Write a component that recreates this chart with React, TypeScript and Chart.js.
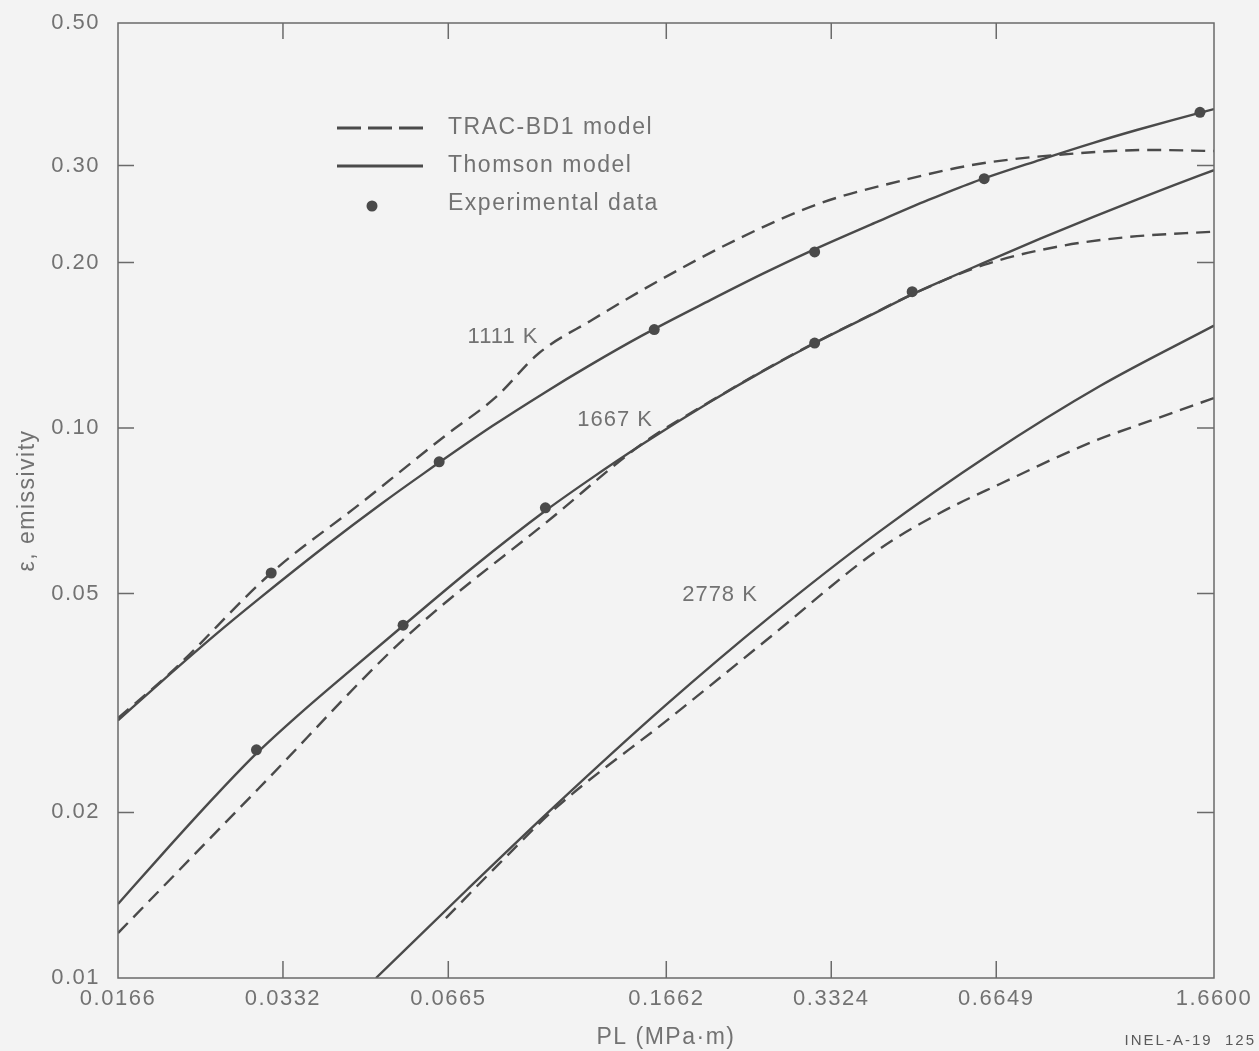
import React, { useEffect, useRef } from "react";
import { Chart, registerables } from "chart.js";

Chart.register(...registerables);

const FONT = "'Liberation Sans', Arial, Helvetica, sans-serif";
const BG = "#f3f3f3";
const INK = "#4a4a4a";
const TEXT = "#727272";
const FRAME = "#6a6a6a";

// ---- axes ----
const xTickValues = [0.0166, 0.0332, 0.0665, 0.1662, 0.3324, 0.6649, 1.66];
const xTickLabels = ["0.0166", "0.0332", "0.0665", "0.1662", "0.3324", "0.6649", "1.6600"];
const yTickValues = [0.01, 0.02, 0.05, 0.1, 0.2, 0.3, 0.545];
const yTickLabels = ["0.01", "0.02", "0.05", "0.10", "0.20", "0.30", "0.50"];

// ---- model curves (PL in MPa·m, emissivity) ----
// 1111 K
const plThomson1111 = [0.0166, 0.02, 0.025, 0.03, 0.04, 0.05, 0.06, 0.08, 0.1, 0.12, 0.15, 0.2, 0.25, 0.3, 0.4, 0.5, 0.6, 0.8, 1.0, 1.2, 1.4, 1.66];
const thomson1111 = [0.0294, 0.0347, 0.0421, 0.0489, 0.0614, 0.0726, 0.0827, 0.1008, 0.1162, 0.1297, 0.1472, 0.1708, 0.191, 0.2082, 0.2362, 0.2598, 0.2792, 0.3074, 0.33, 0.3482, 0.3634, 0.3801];
const plTrac1111 = [0.0166, 0.0207, 0.0316, 0.0459, 0.0659, 0.0813, 0.0974, 0.1216, 0.1619, 0.2266, 0.3145, 0.4437, 0.6159, 0.9495, 1.268, 1.66];
const trac1111 = [0.0297, 0.0359, 0.0545, 0.0728, 0.0971, 0.1139, 0.1369, 0.1572, 0.1858, 0.2216, 0.2555, 0.2812, 0.302, 0.3162, 0.3203, 0.3189];
// 1667 K
const plThomson1667 = [0.0166, 0.02, 0.025, 0.0297, 0.0355, 0.0437, 0.055, 0.0741, 0.1, 0.12, 0.15, 0.2, 0.25, 0.31, 0.4, 0.467, 0.5, 0.6, 0.8, 1.0, 1.2, 1.4, 1.66];
const thomson1667 = [0.01363, 0.0168, 0.02143, 0.0256, 0.03013, 0.036, 0.0437, 0.056, 0.0707, 0.0804, 0.0933, 0.1116, 0.127, 0.1426, 0.1619, 0.175, 0.1805, 0.1954, 0.221, 0.2421, 0.2602, 0.2761, 0.2944];
const plTrac1667 = [0.0166, 0.03, 0.0557, 0.1032, 0.15, 0.2, 0.25, 0.31, 0.4, 0.467, 0.631, 0.8545, 1.157, 1.66];
const trac1667 = [0.01207, 0.02213, 0.0417, 0.0689, 0.0935, 0.1118, 0.1272, 0.1428, 0.1622, 0.175, 0.1979, 0.2134, 0.2225, 0.2275];
// 2778 K
const plThomson2778 = [0.04908, 0.07193, 0.1045, 0.1652, 0.2559, 0.4045, 0.6475, 1.028, 1.66];
const thomson2778 = [0.01, 0.01447, 0.02062, 0.03124, 0.04521, 0.06454, 0.08961, 0.1192, 0.1535];
const plTrac2778 = [0.06583, 0.08262, 0.1045, 0.1688, 0.2559, 0.4045, 0.5248, 0.6753, 0.994, 1.268, 1.66];
const trac2778 = [0.01285, 0.01619, 0.02038, 0.0297, 0.04151, 0.06, 0.07007, 0.07911, 0.0943, 0.103, 0.1134];

// ---- experimental data ----
const exp1111PL = [0.0316, 0.064, 0.158, 0.31, 0.632, 1.565];
const exp1111E = [0.0545, 0.0868, 0.151, 0.209, 0.284, 0.375];
const exp1667PL = [0.0297, 0.055, 0.1, 0.31, 0.467];
const exp1667E = [0.026, 0.0438, 0.0716, 0.1427, 0.177];

// ---- annotations ----
const curveLabels = [
  { text: "1111 K", pl: 0.0837, e: 0.1464 },
  { text: "1667 K", pl: 0.134, e: 0.1034 },
  { text: "2778 K", pl: 0.2083, e: 0.0497 },
];
const legendItems = [
  { kind: "dashed", text: "TRAC-BD1 model" },
  { kind: "solid", text: "Thomson model" },
  { kind: "dot", text: "Experimental data" },
];
const figureId = "INEL-A-19  125";

const pts = (xs: number[], ys: number[]) => xs.map((x, i) => ({ x, y: ys[i] }));

const lineSet = (label: string, xs: number[], ys: number[], dashed: boolean) => ({
  label,
  data: pts(xs, ys),
  showLine: true,
  borderColor: INK,
  backgroundColor: INK,
  borderWidth: 2.4,
  borderDash: dashed ? [14, 8] : [],
  pointRadius: 0,
  cubicInterpolationMode: "monotone",
  fill: false,
});

const dotSet = (label: string, xs: number[], ys: number[]) => ({
  label,
  data: pts(xs, ys),
  showLine: false,
  pointRadius: 5.5,
  pointBorderWidth: 0,
  pointBackgroundColor: INK,
  backgroundColor: INK,
  borderColor: INK,
});

const decorPlugin = {
  id: "decor",
  beforeDraw(chart: any) {
    const ctx = chart.ctx;
    ctx.save();
    ctx.fillStyle = BG;
    ctx.fillRect(0, 0, chart.width, chart.height);
    ctx.restore();
    ctx.letterSpacing = "1.5px";
  },
  afterDatasetsDraw(chart: any) {
    const { ctx, chartArea } = chart;
    const { left, right, top, bottom } = chartArea;
    const xs = chart.scales.x;
    const ys = chart.scales.y;
    ctx.save();
    ctx.strokeStyle = FRAME;
    ctx.lineWidth = 1.5;
    ctx.setLineDash([]);
    ctx.strokeRect(left, top, right - left, bottom - top);
    ctx.beginPath();
    xTickValues.slice(1, -1).forEach((v) => {
      const px = xs.getPixelForValue(v);
      ctx.moveTo(px, bottom);
      ctx.lineTo(px, bottom - 17);
      ctx.moveTo(px, top);
      ctx.lineTo(px, top + 16);
    });
    yTickValues.slice(1, -1).forEach((v) => {
      const py = ys.getPixelForValue(v);
      ctx.moveTo(left, py);
      ctx.lineTo(left + 16, py);
      ctx.moveTo(right, py);
      ctx.lineTo(right - 17, py);
    });
    ctx.stroke();
    ctx.restore();
  },
  afterDraw(chart: any) {
    const ctx = chart.ctx;
    const xs = chart.scales.x;
    const ys = chart.scales.y;
    ctx.save();
    // legend
    const lx0 = 337, lx1 = 423, tx = 448;
    const rows = [128, 166, 204];
    legendItems.forEach((it, i) => {
      const y = rows[i];
      ctx.strokeStyle = INK;
      ctx.fillStyle = INK;
      ctx.lineWidth = 3;
      if (it.kind === "dashed" || it.kind === "solid") {
        ctx.setLineDash(it.kind === "dashed" ? [24, 7] : []);
        ctx.beginPath();
        ctx.moveTo(lx0, y);
        ctx.lineTo(lx1, y);
        ctx.stroke();
        ctx.setLineDash([]);
      } else {
        ctx.beginPath();
        ctx.arc(372, y + 2, 5.5, 0, Math.PI * 2);
        ctx.fill();
      }
      ctx.fillStyle = TEXT;
      ctx.font = `23px ${FONT}`;
      ctx.letterSpacing = "1.5px";
      ctx.textAlign = "left";
      ctx.textBaseline = "middle";
      ctx.fillText(it.text, tx, y);
    });
    // curve labels
    ctx.font = `22px ${FONT}`;
    ctx.letterSpacing = "1px";
    ctx.textAlign = "center";
    ctx.textBaseline = "middle";
    ctx.fillStyle = TEXT;
    curveLabels.forEach((c) => {
      ctx.fillText(c.text, xs.getPixelForValue(c.pl), ys.getPixelForValue(c.e));
    });
    // figure id
    ctx.font = `15px ${FONT}`;
    ctx.letterSpacing = "2px";
    ctx.textAlign = "right";
    ctx.fillStyle = "#5a5a5a";
    ctx.fillText(figureId, 1256, 1041);
    ctx.restore();
  },
};

export default function App() {
  const ref = useRef<HTMLCanvasElement>(null);
  useEffect(() => {
    const tickFont = { family: FONT, size: 22 };
    const chart = new Chart(ref.current as HTMLCanvasElement, {
      type: "scatter",
      data: {
        datasets: [
          lineSet("TRAC-BD1 1111 K", plTrac1111, trac1111, true),
          lineSet("Thomson 1111 K", plThomson1111, thomson1111, false),
          lineSet("TRAC-BD1 1667 K", plTrac1667, trac1667, true),
          lineSet("Thomson 1667 K", plThomson1667, thomson1667, false),
          lineSet("TRAC-BD1 2778 K", plTrac2778, trac2778, true),
          lineSet("Thomson 2778 K", plThomson2778, thomson2778, false),
          dotSet("Experimental 1111 K", exp1111PL, exp1111E),
          dotSet("Experimental 1667 K", exp1667PL, exp1667E),
        ] as any,
      },
      options: {
        animation: false,
        responsive: false,
        devicePixelRatio: 1,
        layout: { padding: { top: 23, right: 45, bottom: 0, left: 0 } },
        plugins: { legend: { display: false }, tooltip: { enabled: false } },
        scales: {
          x: {
            type: "logarithmic",
            position: "bottom",
            min: 0.0166,
            max: 1.66,
            afterBuildTicks: (s: any) => {
              s.ticks = xTickValues.map((v) => ({ value: v }));
            },
            afterFit: (s: any) => {
              s.height = 73;
            },
            grid: { display: false, drawTicks: false },
            border: { display: false },
            ticks: {
              callback: (_v: any, i: number) => xTickLabels[i],
              color: TEXT,
              font: tickFont,
              padding: 8,
              autoSkip: false,
              maxRotation: 0,
            },
            title: {
              display: true,
              text: "PL (MPa·m)",
              color: TEXT,
              font: { family: FONT, size: 23 },
              padding: { top: 0, bottom: 0 },
            },
          },
          y: {
            type: "logarithmic",
            position: "left",
            min: 0.01,
            max: 0.545,
            afterBuildTicks: (s: any) => {
              s.ticks = yTickValues.map((v) => ({ value: v }));
            },
            afterFit: (s: any) => {
              s.width = 118;
              s.paddingTop = 0;
              s.paddingBottom = 0;
            },
            grid: { display: false, drawTicks: false },
            border: { display: false },
            ticks: {
              callback: (_v: any, i: number) => yTickLabels[i],
              color: TEXT,
              font: tickFont,
              padding: 18,
              autoSkip: false,
            },
            title: {
              display: true,
              text: "ε, emissivity",
              color: TEXT,
              font: { family: FONT, size: 23 },
              padding: { top: 14, bottom: 0 },
            },
          },
        },
      } as any,
      plugins: [decorPlugin as any],
    });
    return () => chart.destroy();
  }, []);
  return (
    <div style={{ position: "fixed", left: 0, top: 0, width: 1259, height: 1051, background: BG }}>
      <canvas ref={ref} width={1259} height={1051} style={{ display: "block", width: 1259, height: 1051 }} />
    </div>
  );
}
